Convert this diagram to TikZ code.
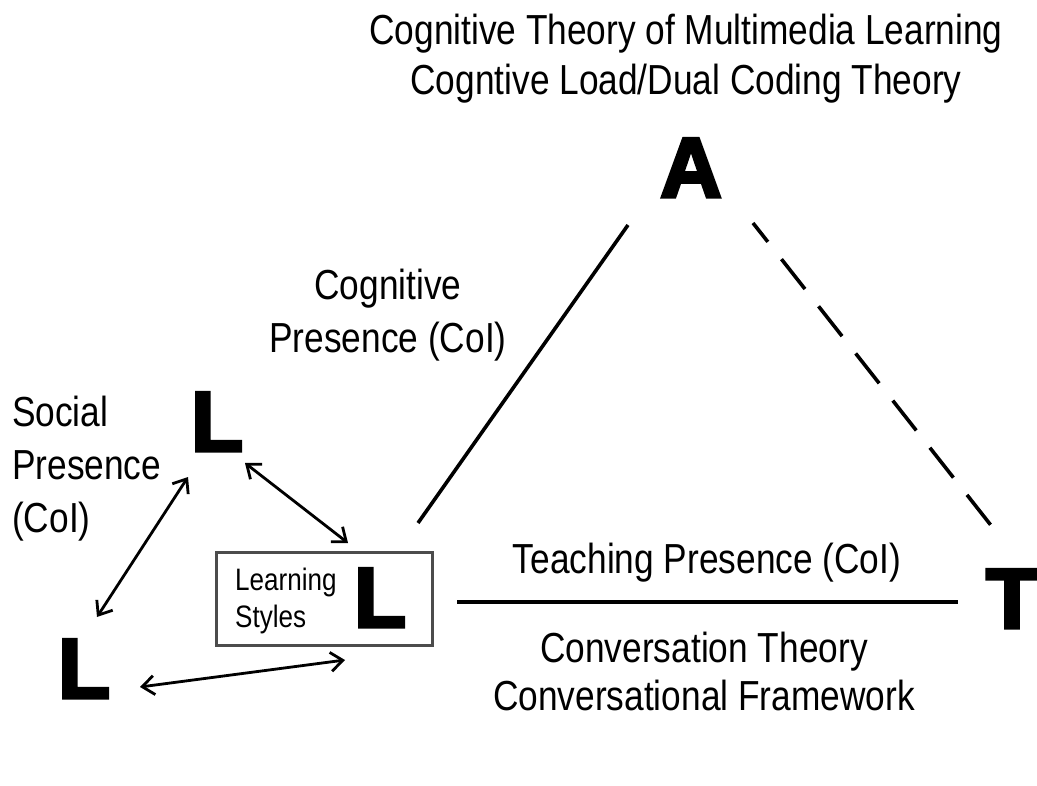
\documentclass[tikz,border=0pt]{standalone}
\usepackage{fontspec}
\setmainfont{Liberation Sans}[FakeStretch=0.84]
\newfontfamily\heavyfont{Liberation Sans}[FakeBold=4]
\usetikzlibrary{arrows.meta}

\begin{document}
\begin{tikzpicture}[x=1pt,y=-1pt,
  txt/.style={inner sep=0pt, align=center, anchor=base},
  capt/.style={txt, font=\fontsize{42}{#1}\selectfont},
  letter/.style={inner sep=0pt, anchor=base,
    font=\heavyfont\bfseries\fontsize{85}{85}\selectfont},
  edge/.style={line width=3.6pt},
  twoway/.style={line width=2.8pt,
    {Straight Barb[length=12pt,width=19pt,line width=2.8pt]}-{Straight Barb[length=12pt,width=19pt,line width=2.8pt]}}
]
\useasboundingbox[fill=white] (0,0) rectangle (1037,786);

% vertex letters (multi-line nodes sit on the baseline of their last line)
\node[letter] (A)  at (691,197) {A};
\node[letter] (T)  at (1012,628) {T};
\node[letter] (Lt) at (217,451) {L};
\node[letter] (Lb) at (84,698) {L};

% learner box with learning styles
\node[draw=black!70, line width=3pt, minimum width=216, minimum height=93,
      inner sep=0pt] (box) at (324,598.5) {};
\node[letter] (Lm) at (380,627) {L};
\node[inner sep=0pt, anchor=base west, align=left,
      font=\fontsize{31}{37}\selectfont] (styles) at (235,627) {Learning\\Styles};

% labels
\node[capt=50] (theory) at (686,95)
  {Cognitive Theory of Multimedia Learning\\Cogntive Load/Dual Coding Theory};
\node[capt=53] (cog) at (388,353) {Cognitive\\Presence (CoI)};
\node[capt=53, anchor=base west, align=left] (soc) at (12,532)
  {Social\\Presence\\(CoI)};
\node[capt=48] (teach) at (707,573) {Teaching Presence (CoI)};
\node[capt=48] (conv) at (704,710) {Conversation Theory\\Conversational Framework};

% end points of the triangle sides
\coordinate (aL) at (628,225);
\coordinate (mA) at (418,523);
\coordinate (aT) at (753,223);
\coordinate (tA) at (997,533);
\coordinate (mT) at (457,602);
\coordinate (tM) at (958,602);

\draw[edge] (aL) -- (mA);
\draw[edge, dash pattern=on 38pt off 22pt, dash phase=14pt] (aT) -- (tA);
\draw[edge] (mT) -- (tM);

% learner to learner links
\coordinate (t1) at (245,463);
\coordinate (m1) at (348,543);
\coordinate (t2) at (188,477);
\coordinate (b2) at (97,617);
\coordinate (b3) at (140,687);
\coordinate (m3) at (345,660);
\draw[twoway] (t1) -- (m1);
\draw[twoway] (t2) -- (b2);
\draw[twoway] (b3) -- (m3);
\end{tikzpicture}
\end{document}
